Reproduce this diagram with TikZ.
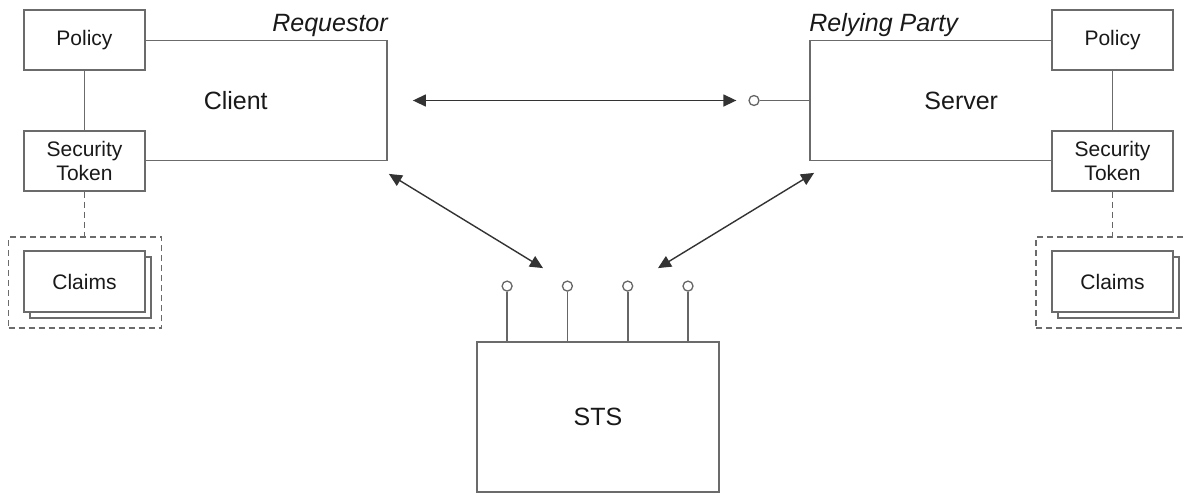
\documentclass[tikz,border=0pt]{standalone}
\usepackage{fontspec}
\setmainfont{Liberation Sans}
\usetikzlibrary{arrows.meta,shadows,calc}

\tikzset{
  box/.style={draw=black!58, line width=1.8pt, fill=white, text=black!90,
    minimum width=121pt, minimum height=60pt, inner sep=0pt, align=center,
    font=\fontsize{21}{24}\selectfont},
  bigbox/.style={draw=black!58, line width=1.8pt, text=black!90, inner sep=0pt,
    font=\fontsize{25}{30}\selectfont},
  group/.style={draw=black!58, line width=1.8pt, dash pattern=on 6pt off 4pt,
    minimum width=153pt, minimum height=91pt, inner sep=0pt},
  role/.style={text=black!90, inner sep=0pt, font=\fontsize{25}{30}\selectfont\itshape},
  port/.style={circle, draw=black!60, line width=1.3pt, fill=white,
    minimum size=10pt, inner sep=0pt},
  wire/.style={draw=black!60, line width=1.6pt},
  link/.style={draw=black!80, line width=1.4pt, <->},
  >={Triangle[length=13pt,width=12pt]}
}

\begin{document}
\begin{tikzpicture}[x=1pt,y=-1pt]
  \clip (0,0) rectangle (1184,493);
  \fill[white] (0,0) rectangle (1184,493);

  % requestor
  \node[bigbox, minimum width=302.5pt, minimum height=120pt] (client) at (235.75,100.5) {Client};
  \node[box] (lpolicy) at (84.5,40) {Policy};
  \node[box] (ltoken) at (84.5,161) {Security\\Token};
  \node[role, anchor=base east] (req) at ([yshift=8.5pt]client.north east) {Requestor};
  \node[group] (lgroup) at (85,282.5) {};
  \node[box, minimum height=61pt, copy shadow={shadow xshift=6pt, shadow yshift=-6pt}] (lclaims) at (84.5,281.5) {Claims};
  \draw[wire, dash pattern=on 6pt off 4pt] (ltoken.south) -- (ltoken.south |- lgroup.north);

  % relying party
  \node[bigbox, minimum width=302.5pt, minimum height=120pt] (server) at (961.25,100.5) {Server};
  \node[box] (rpolicy) at (1112.5,40) {Policy};
  \node[box] (rtoken) at (1112.5,161) {Security\\Token};
  \node[role, anchor=base west] (rp) at ([yshift=8.5pt]server.north west) {Relying Party};
  \node[group] (rgroup) at (1112.5,282.5) {};
  \node[box, minimum height=61pt, copy shadow={shadow xshift=6pt, shadow yshift=-6pt}] (rclaims) at (1112.5,281.5) {Claims};
  \draw[wire, dash pattern=on 6pt off 4pt] (rtoken.south) -- (rtoken.south |- rgroup.north);

  \node[port] (svport) at (754,100.5) {};
  \draw[wire] (svport) -- (server.west);
  \draw[link, shorten <=25pt, shorten >=12pt] (client.east) -- (svport.west);

  % sts
  \node[bigbox, minimum width=242pt, minimum height=150pt] (sts) at (598,417) {STS};
  \foreach \i in {0,...,3} {
    \node[port] (p\i) at ($(sts.north west)+(31+60.3*\i,-55)$) {};
    \draw[wire] (p\i) -- (p\i |- sts.north);
  }

  \draw[link] ([shift={(1,12.5)}]client.south east) -- ([shift={(-55,-73)}]sts.north);
  \draw[link] ([shift={(60,-73)}]sts.north) -- ([shift={(5,11.5)}]server.south west);
\end{tikzpicture}
\end{document}
